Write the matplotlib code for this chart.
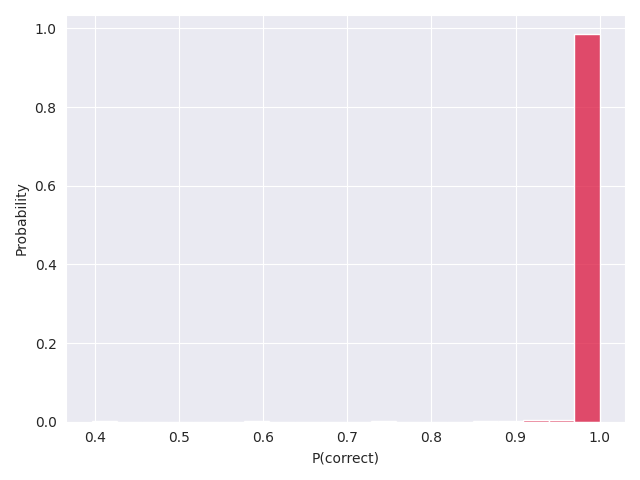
import numpy as np
import matplotlib
matplotlib.use("Agg")
import matplotlib.pyplot as plt
import seaborn as sns

# bin layout: 20 equal bins over roughly [0.396, 1.0]
n_bins = 20
bin_lo, bin_hi = 0.396, 1.0
# approximate share of samples per bin (left to right)
bin_share = [0.0015, 0.0002, 0.0002, 0.0002, 0.0002, 0.0002, 0.001,
             0.0002, 0.0002, 0.0002, 0.0002, 0.001, 0.0002, 0.0002,
             0.0002, 0.0007, 0.0007, 0.004, 0.004, 0.9845]

edges = np.linspace(bin_lo, bin_hi, n_bins + 1)
centers = (edges[:-1] + edges[1:]) / 2

sns.set_style("darkgrid")
fig, ax = plt.subplots(figsize=(6.4, 4.8), dpi=100)
sns.histplot(x=centers, weights=bin_share, bins=n_bins, binrange=(bin_lo, bin_hi),
             stat="probability", color="crimson", ax=ax)
ax.set_xlabel("P(correct)")
ax.set_ylabel("Probability")
fig.tight_layout()
fig.savefig("out.png")
